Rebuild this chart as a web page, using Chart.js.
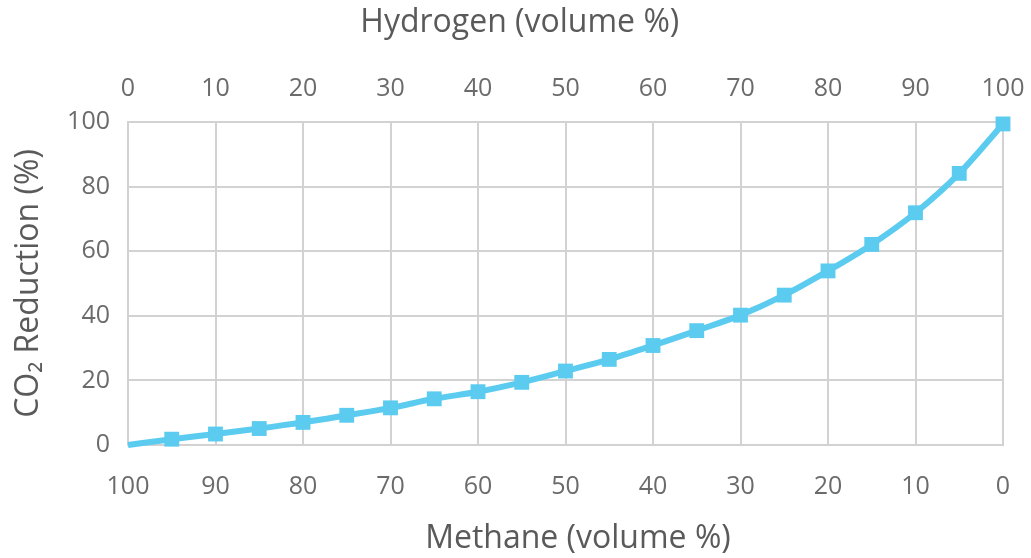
<!DOCTYPE html>
<html>
<head>
<meta charset="utf-8">
<script src="https://cdn.jsdelivr.net/npm/chart.js@4"></script>
<style>
  body { margin: 0; background: #fff; }
</style>
</head>
<body>
<canvas id="graph1" width="1031" height="558"></canvas>
<script>
// hydrogen share (volume %) and CO2 reduction
var hydrogen = [0, 5, 10, 15, 20, 25, 30, 35, 40, 45, 50, 55, 60, 65, 70, 75, 80, 85, 90, 95, 100];
var co2Reduction = [0, 1.8, 3.4, 5.1, 7.0, 9.2, 11.5, 14.3, 16.5, 19.4, 22.9, 26.5, 30.8, 35.4, 40.2, 46.4, 53.9, 62.1, 71.9, 84.1, 99.4];

var hydrogenTicks = [0, 10, 20, 30, 40, 50, 60, 70, 80, 90, 100];
var methaneTicks = [100, 90, 80, 70, 60, 50, 40, 30, 20, 10, 0];
var yTicks = [0, 20, 40, 60, 80, 100];

var lineColor = '#5BCBF0';
var gridColor = '#d2d2d2';
var tickColor = '#6b6b6b';
var titleColor = '#5a5a5a';
var fontFamily = '"Open Sans", "DejaVu Sans", sans-serif';

const points = hydrogen.map(function (h, i) {
  return { x: h, y: co2Reduction[i] };
});

function setTicks(list) {
  return function (axis) {
    axis.ticks = list.slice().sort(function (a, b) { return a - b; }).map(function (v) {
      return { value: v };
    });
  };
}

// fixed axis sizes, no extra room for overhanging labels
function fitX(h) {
  return function (axis) {
    axis.height = h;
    axis.paddingLeft = 0;
    axis.paddingRight = 0;
  };
}

const config = {
  type: 'line',
  data: {
    datasets: [{
      label: 'CO2 Reduction',
      data: points,
      xAxisID: 'hydrogen',
      yAxisID: 'y',
      borderColor: lineColor,
      backgroundColor: lineColor,
      borderWidth: 6,
      cubicInterpolationMode: 'monotone',
      pointStyle: 'rect',
      pointRadius: co2Reduction.map(function (v, i) { return i === 0 ? 0 : 10.5; }),
      pointBorderWidth: 0,
      pointBackgroundColor: lineColor,
      clip: false
    }]
  },
  options: {
    responsive: false,
    animation: false,
    layout: { padding: { left: 10, right: 28, top: 4, bottom: 0 } },
    plugins: {
      legend: { display: false },
      tooltip: { enabled: false }
    },
    scales: {
      hydrogen: {
        type: 'linear',
        axis: 'x',
        position: 'top',
        min: 0,
        max: 100,
        afterBuildTicks: setTicks(hydrogenTicks),
        afterFit: fitX(118),
        grid: { color: gridColor, lineWidth: 2, drawTicks: false },
        border: { display: false },
        ticks: { color: tickColor, padding: 18, font: { family: fontFamily, size: 25 } },
        title: {
          display: true,
          // trailing spaces push the title left, as in the original
          text: 'Hydrogen (volume %)           ',
          color: titleColor,
          padding: 0,
          font: { family: fontFamily, size: 32 }
        }
      },
      methane: {
        type: 'linear',
        axis: 'x',
        position: 'bottom',
        reverse: true,
        min: 0,
        max: 100,
        afterBuildTicks: setTicks(methaneTicks),
        afterFit: fitX(113),
        grid: { display: false, drawTicks: false },
        border: { display: true, color: gridColor, width: 2 },
        ticks: { color: tickColor, padding: 27, font: { family: fontFamily, size: 25 } },
        title: {
          display: true,
          text: '   Methane (volume %)',
          color: titleColor,
          padding: 0,
          font: { family: fontFamily, size: 32 }
        }
      },
      y: {
        type: 'linear',
        position: 'left',
        min: 0,
        max: 100,
        afterBuildTicks: setTicks(yTicks),
        afterFit: function (axis) {
          axis.width = 118;
          axis.paddingTop = 0;
          axis.paddingBottom = 0;
        },
        grid: { color: gridColor, lineWidth: 2, drawTicks: false },
        border: { display: true, color: gridColor, width: 2 },
        ticks: { color: tickColor, padding: 18, font: { family: fontFamily, size: 25 } },
        title: {
          display: true,
          text: 'CO\u2082 Reduction (%)',
          color: titleColor,
          padding: 0,
          font: { family: fontFamily, size: 32 }
        }
      }
    }
  }
};

var myChart = new Chart(document.getElementById('graph1'), config);
</script>
</body>
</html>
